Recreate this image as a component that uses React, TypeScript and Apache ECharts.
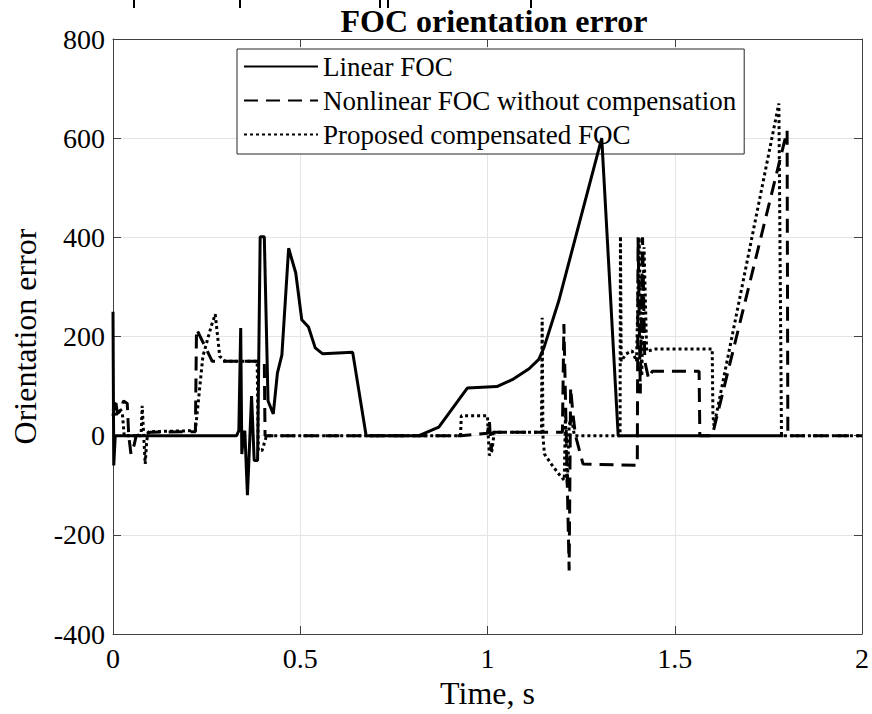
import React, { useEffect, useRef } from "react";
import * as echarts from "echarts";

const xTickValues = [0, 0.5, 1, 1.5, 2];
const yTickValues = [-400, -200, 0, 200, 400, 600, 800];
const legendNames = [
  "Linear FOC",
  "Nonlinear FOC without compensation",
  "Proposed compensated FOC",
];

// [time (s), orientation error]
const linearFoc: [number, number][] = [
  [0, 250], [0.002, -60], [0.006, 0], [0.33, 0], [0.336, 10], [0.341, 217],
  [0.344, -37], [0.348, 0], [0.352, 10], [0.359, -120], [0.37, 80], [0.377, -50],
  [0.386, -50], [0.393, 401], [0.404, 401], [0.414, 70], [0.428, 44], [0.439, 126],
  [0.451, 163], [0.469, 378], [0.488, 328], [0.504, 234], [0.522, 219], [0.54, 177],
  [0.56, 165], [0.64, 168], [0.676, 0], [0.817, 0], [0.87, 17], [0.946, 96],
  [1.025, 99], [1.066, 113], [1.111, 135], [1.137, 154], [1.151, 178], [1.19, 271],
  [1.305, 600], [1.349, 0], [1.79, 0],
];

const nonlinearFoc: [number, number][] = [
  [0, 40], [0.006, 75], [0.012, 45], [0.02, 50], [0.028, 70], [0.038, 65],
  [0.042, 0], [0.048, -37], [0.056, -20], [0.062, 0], [0.1, 7], [0.22, 8],
  [0.223, 215], [0.265, 150], [0.404, 150], [0.406, 0], [0.93, 0], [1.0, 5],
  [1.005, 30], [1.01, -30], [1.015, 7], [1.2, 7], [1.204, 225], [1.212, -60],
  [1.218, -272], [1.222, 97], [1.228, 45], [1.235, 0], [1.255, -57], [1.4, -60],
  [1.402, 400], [1.408, 85], [1.414, 400], [1.42, 150], [1.43, 115], [1.44, 130],
  [1.565, 130], [1.567, 0], [1.6, 0], [1.8, 615], [1.802, 0], [2, 0],
];

const proposedFoc: [number, number][] = [
  [0, 50], [0.005, 60], [0.01, 40], [0.018, 55], [0.025, 45], [0.03, 0],
  [0.075, 0], [0.078, 60], [0.082, 0], [0.086, -57], [0.09, -10], [0.095, 8],
  [0.22, 10], [0.24, 160], [0.262, 220], [0.273, 245], [0.285, 160], [0.3, 150],
  [0.385, 150], [0.388, -30], [0.398, -30], [0.41, 0], [0.928, 0], [0.93, 40],
  [1.0, 40], [1.002, 0], [1.005, -40], [1.012, -30], [1.018, 7], [1.144, 7],
  [1.146, 238], [1.148, 0], [1.152, -37], [1.17, -57], [1.19, -77], [1.205, -90],
  [1.208, 40], [1.213, -100], [1.218, 20], [1.224, 40], [1.232, 0], [1.354, 0],
  [1.355, 402], [1.357, 150], [1.37, 165], [1.386, 171], [1.398, 150], [1.405, 400],
  [1.412, 120], [1.418, 380], [1.425, 170], [1.45, 175], [1.6, 175], [1.602, 40],
  [1.605, 20], [1.778, 670], [1.785, 0], [2, 0],
];

// stray marks left at the top edge of the cropped figure (pixel x positions)
const topMarkX = [134, 240, 380, 388, 531];

export default function App() {
  const ref = useRef<HTMLDivElement>(null);
  useEffect(() => {
    const chart = echarts.init(ref.current!, null, { renderer: "svg" });
    const font = "'Liberation Serif', 'Times New Roman', serif";
    const axisColor = "#404040";
    const gridColor = "#e4e4e4";
    const tick = { show: true, inside: true, length: 8, lineStyle: { color: axisColor, width: 1 } };
    const line = { show: true, onZero: false, lineStyle: { color: axisColor, width: 1 } };
    const mk = (name: string, data: [number, number][], type: any, z: number) => ({
      name,
      type: "line",
      data,
      symbol: "none",
      showSymbol: false,
      z,
      lineStyle: { color: "#000", width: 3, type, cap: "butt" },
      itemStyle: { color: "#000" },
      emphasis: { disabled: true },
    });
    chart.setOption({
      animation: false,
      backgroundColor: "#ffffff",
      title: {
        text: "FOC orientation error",
        left: 489,
        top: 0,
        textAlign: "center",
        textStyle: { fontFamily: font, fontSize: 32, fontWeight: "bold", color: "#000" },
      },
      graphic: topMarkX.map((x) => ({
        type: "line",
        shape: { x1: x, y1: 0, x2: x, y2: 8 },
        style: { stroke: "#000", lineWidth: 2 },
      })),
      legend: {
        orient: "vertical",
        left: 237,
        top: 49,
        padding: [4, 8, 6, 6],
        itemGap: 7,
        itemWidth: 74,
        itemHeight: 26,
        backgroundColor: "#fff",
        borderColor: "#262626",
        borderWidth: 1,
        borderRadius: 0,
        itemStyle: { opacity: 0 },
        textStyle: { fontFamily: font, fontSize: 27, color: "#000", lineHeight: 26 },
        data: legendNames,
      },
      grid: { left: 113, right: 9, top: 39, bottom: 80 },
      xAxis: [
        {
          type: "value",
          min: xTickValues[0],
          max: xTickValues[xTickValues.length - 1],
          interval: 0.5,
          position: "bottom",
          name: "Time, s",
          nameLocation: "middle",
          nameGap: 40,
          nameTextStyle: { fontFamily: font, fontSize: 32, color: "#000" },
          axisLine: line,
          axisTick: tick,
          axisLabel: { fontFamily: font, fontSize: 28, color: "#000", margin: 10, formatter: (v: number) => String(v) },
          splitLine: { show: true, lineStyle: { color: gridColor, width: 1 } },
        },
        {
          type: "value",
          min: xTickValues[0],
          max: xTickValues[xTickValues.length - 1],
          interval: 0.5,
          position: "top",
          axisLine: line,
          axisTick: tick,
          axisLabel: { show: false },
          splitLine: { show: false },
        },
      ],
      yAxis: [
        {
          type: "value",
          min: yTickValues[0],
          max: yTickValues[yTickValues.length - 1],
          interval: 200,
          position: "left",
          name: "Orientation error",
          nameLocation: "middle",
          nameGap: 72,
          nameTextStyle: { fontFamily: font, fontSize: 32, color: "#000" },
          axisLine: line,
          axisTick: tick,
          axisLabel: { fontFamily: font, fontSize: 28, color: "#000", margin: 8, formatter: (v: number) => String(v) },
          splitLine: { show: true, lineStyle: { color: gridColor, width: 1 } },
        },
        {
          type: "value",
          min: yTickValues[0],
          max: yTickValues[yTickValues.length - 1],
          interval: 200,
          position: "right",
          axisLine: line,
          axisTick: tick,
          axisLabel: { show: false },
          splitLine: { show: false },
        },
      ],
      series: [
        mk(legendNames[0], linearFoc, "solid", 4),
        mk(legendNames[1], nonlinearFoc, [14, 8], 3),
        mk(legendNames[2], proposedFoc, [3, 3], 2),
      ],
    });
    return () => chart.dispose();
  }, []);
  return <div ref={ref} style={{ position: "fixed", left: 0, top: 0, width: 872, height: 714 }} />;
}
